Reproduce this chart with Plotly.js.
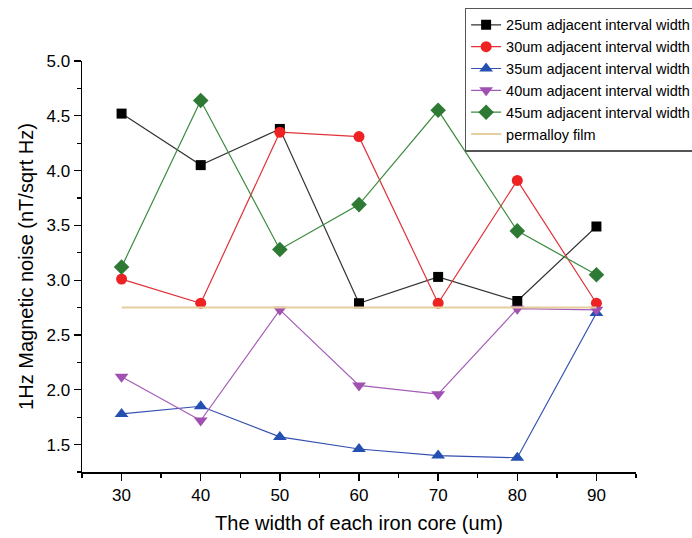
<!DOCTYPE html>
<html>
<head>
<meta charset="utf-8">
<script src="https://cdn.plot.ly/plotly-3.0.1.min.js"></script>
<style>html,body{margin:0;padding:0;background:#fff;}#chart{width:692px;height:538px;}</style>
</head>
<body>
<div id="chart"></div>
<script>
const widths = [30, 40, 50, 60, 70, 80, 90];
const s25 = [4.52, 4.05, 4.38, 2.79, 3.03, 2.81, 3.49];
const s30 = [3.01, 2.79, 4.35, 4.31, 2.79, 3.91, 2.79];
const s35 = [1.78, 1.85, 1.57, 1.46, 1.40, 1.38, 2.70];
const s40 = [2.12, 1.72, 2.73, 2.04, 1.96, 2.74, 2.73];
const s45 = [3.12, 4.64, 3.28, 3.69, 4.55, 3.45, 3.05];
const permalloyX = [30, 90];
const permalloy = [2.75, 2.75];
const names = [
  "25um adjacent interval width",
  "30um adjacent interval width",
  "35um adjacent interval width",
  "40um adjacent interval width",
  "45um adjacent interval width",
  "permalloy film"
];

function series(y, name, lineColor, markerColor, symbol, size) {
  return {
    x: widths, y: y, name: name, type: 'scatter', mode: 'lines+markers',
    line: {color: lineColor, width: 1.2},
    marker: {symbol: symbol, size: size, color: markerColor, line: {width: 0}}
  };
}

const traces = [
  series(s25, names[0], '#333333', '#000000', 'square', 10),
  series(s30, names[1], '#e0333a', '#ee2222', 'circle', 11),
  series(s35, names[2], '#3450b0', '#2450b0', 'triangle-up', 12),
  series(s40, names[3], '#a45cb8', '#a050b0', 'triangle-down', 12),
  series(s45, names[4], '#3a8a3e', '#2e7a35', 'diamond', 12),
  {x: permalloyX, y: permalloy, name: names[5], type: 'scatter', mode: 'lines',
   line: {color: '#e6cf9c', width: 2}}
];

const layout = {
  width: 692, height: 538,
  margin: {l: 82, r: 56, t: 61, b: 66, autoexpand: false},
  paper_bgcolor: '#fff', plot_bgcolor: '#fff',
  font: {family: 'Liberation Sans, Arial, sans-serif', color: '#000'},
  showlegend: true,
  legend: {
    x: 0.691, y: 1.13, xanchor: 'left', yanchor: 'top',
    bordercolor: '#555', borderwidth: 1.3, bgcolor: '#fff',
    font: {size: 14.5, color: '#000'}, tracegroupgap: 0
  },
  xaxis: {
    range: [25, 95], tickvals: widths, ticktext: widths.map(String),
    ticks: 'outside', ticklen: 7, tickwidth: 1.3, tickcolor: '#000',
    minor: {dtick: 5, tick0: 25, ticks: 'outside', ticklen: 4, tickwidth: 1.3, tickcolor: '#000'},
    showline: true, linecolor: '#000', linewidth: 1.5, showgrid: false, zeroline: false,
    tickfont: {size: 17},
    title: {text: 'The width of each iron core (um)', font: {size: 20}, standoff: 12}
  },
  yaxis: {
    range: [1.25, 5.0], tick0: 1.5, dtick: 0.5, tickformat: '.1f',
    ticks: 'outside', ticklen: 7, tickwidth: 1.3, tickcolor: '#000',
    minor: {dtick: 0.25, ticks: 'outside', ticklen: 4, tickwidth: 1.3, tickcolor: '#000'},
    showline: true, linecolor: '#000', linewidth: 1.5, showgrid: false, zeroline: false,
    tickfont: {size: 17},
    title: {text: '1Hz Magnetic noise (nT/sqrt Hz)', font: {size: 20}, standoff: 7}
  }
};

Plotly.newPlot('chart', traces, layout, {displayModeBar: false, staticPlot: true});
</script>
</body>
</html>
